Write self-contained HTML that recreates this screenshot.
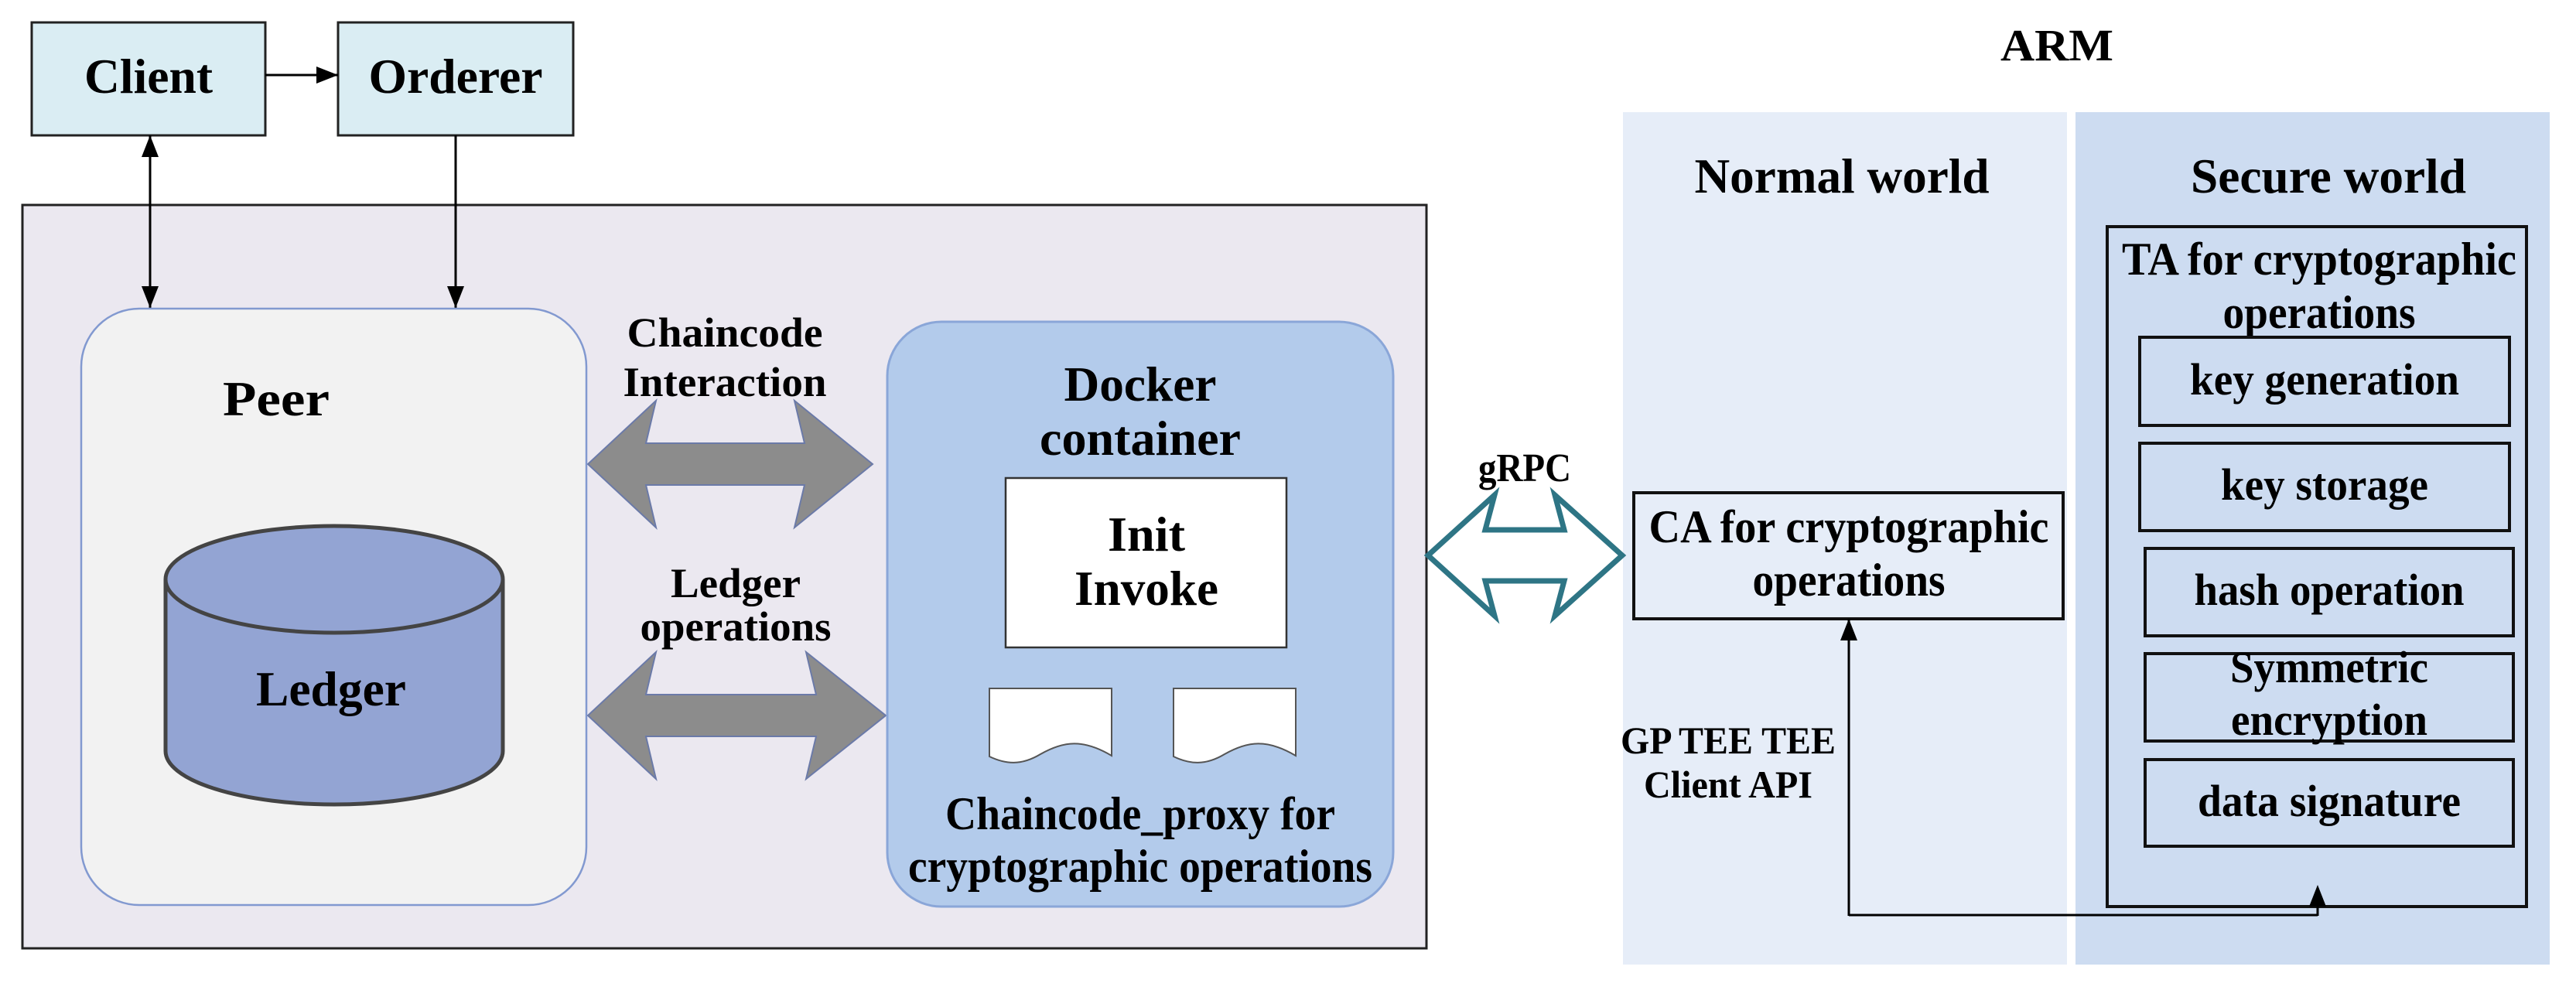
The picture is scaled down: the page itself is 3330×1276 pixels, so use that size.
<!DOCTYPE html>
<html><head><meta charset="utf-8"><style>
html,body{margin:0;padding:0;background:#fff}
svg{display:block}
text{font-family:"Liberation Serif",serif;font-weight:bold;fill:#000;text-anchor:middle}
</style></head><body>
<svg width="3330" height="1276" viewBox="0 0 3330 1276" xmlns="http://www.w3.org/2000/svg">
<defs>
<marker id="big" markerWidth="28" markerHeight="22" refX="28" refY="11" orient="auto-start-reverse" markerUnits="userSpaceOnUse"><path d="M0,0 L28,11 L0,22 z" fill="#000"/></marker>
</defs>

<rect x="41" y="29" width="302" height="146" fill="#daedf3" stroke="#222" stroke-width="3"/>
<rect x="437" y="29" width="304" height="146" fill="#daedf3" stroke="#222" stroke-width="3"/>
<text x="192" y="120" font-size="64" textLength="166" lengthAdjust="spacingAndGlyphs">Client</text>
<text x="589" y="120" font-size="64" textLength="225" lengthAdjust="spacingAndGlyphs">Orderer</text>
<line x1="343" y1="97" x2="437" y2="97" stroke="#000" stroke-width="3" marker-end="url(#big)"/>

<rect x="29" y="265" width="1815" height="961" fill="#ebe8f0" stroke="#222" stroke-width="3"/>

<line x1="194" y1="175" x2="194" y2="398" stroke="#000" stroke-width="3" marker-start="url(#big)" marker-end="url(#big)"/>
<line x1="589" y1="175" x2="589" y2="398" stroke="#000" stroke-width="3" marker-end="url(#big)"/>

<rect x="105" y="399" width="653" height="771" rx="75" fill="#f2f2f2" stroke="#8299d0" stroke-width="2.5"/>
<text x="357" y="537" font-size="64" textLength="138" lengthAdjust="spacingAndGlyphs">Peer</text>
<path d="M214,749 L214,971 A218,69 0 0 0 650,971 L650,749" fill="#93a4d3" stroke="#444" stroke-width="5"/>
<ellipse cx="432" cy="749" rx="218" ry="69" fill="#93a4d3" stroke="#444" stroke-width="5"/>
<text x="428" y="912" font-size="64" textLength="194" lengthAdjust="spacingAndGlyphs">Ledger</text>

<polygon points="760,600 848,518 835,573 1040,573 1027,518 1128,600 1027,682 1040,627 835,627 848,682" fill="#8c8c8c" stroke="#6b7aa8" stroke-width="2"/>
<polygon points="760,925 848,843 835,898 1055,898 1042,843 1145,925 1042,1007 1055,952 835,952 848,1007" fill="#8c8c8c" stroke="#6b7aa8" stroke-width="2"/>
<text x="937" y="448" font-size="54" textLength="253" lengthAdjust="spacingAndGlyphs">Chaincode</text>
<text x="937" y="512" font-size="54" textLength="263" lengthAdjust="spacingAndGlyphs">Interaction</text>
<text x="951" y="772" font-size="54" textLength="168" lengthAdjust="spacingAndGlyphs">Ledger</text>
<text x="951" y="828" font-size="54" textLength="247" lengthAdjust="spacingAndGlyphs">operations</text>

<rect x="1147" y="416" width="654" height="756" rx="70" fill="#b3cbeb" stroke="#8aa6d8" stroke-width="3"/>
<text x="1474" y="518" font-size="64" textLength="197" lengthAdjust="spacingAndGlyphs">Docker</text>
<text x="1474" y="588" font-size="64" textLength="260" lengthAdjust="spacingAndGlyphs">container</text>
<rect x="1300" y="618" width="363" height="219" fill="#fff" stroke="#333" stroke-width="2.5"/>
<text x="1482" y="712" font-size="64" textLength="100" lengthAdjust="spacingAndGlyphs">Init</text>
<text x="1482" y="782" font-size="64" textLength="186" lengthAdjust="spacingAndGlyphs">Invoke</text>
<path d="M1279,890 L1437,890 L1437,977 C1400,955 1375,958 1345,975 C1320,990 1300,988 1279,978 Z" fill="#fff" stroke="#555" stroke-width="2"/>
<path d="M1517,890 L1675,890 L1675,977 C1638,955 1613,958 1583,975 C1558,990 1538,988 1517,978 Z" fill="#fff" stroke="#555" stroke-width="2"/>
<text x="1474" y="1072" font-size="60" textLength="504" lengthAdjust="spacingAndGlyphs">Chaincode_proxy for</text>
<text x="1474" y="1140" font-size="60" textLength="600" lengthAdjust="spacingAndGlyphs">cryptographic operations</text>

<text x="2659" y="78" font-size="58" textLength="146" lengthAdjust="spacingAndGlyphs">ARM</text>
<rect x="2098" y="145" width="574" height="1102" fill="#e6edf8"/>
<rect x="2683" y="145" width="613" height="1102" fill="#cddcf1"/>
<text x="2381" y="249" font-size="64" textLength="381" lengthAdjust="spacingAndGlyphs">Normal world</text>
<text x="3010" y="249" font-size="64" textLength="356" lengthAdjust="spacingAndGlyphs">Secure world</text>

<text x="1971" y="622" font-size="52" textLength="120" lengthAdjust="spacingAndGlyphs">gRPC</text>
<polygon points="1846,718 1932,640 1920,685 2022,685 2010,640 2097,718 2010,796 2022,751 1920,751 1932,796" fill="#fff" stroke="#2e7585" stroke-width="7"/>

<rect x="2112" y="637" width="555" height="163" fill="none" stroke="#111" stroke-width="4"/>
<text x="2390" y="701" font-size="60" textLength="517" lengthAdjust="spacingAndGlyphs">CA for cryptographic</text>
<text x="2390" y="770" font-size="60" textLength="249" lengthAdjust="spacingAndGlyphs">operations</text>

<rect x="2724" y="293" width="542" height="879" fill="none" stroke="#111" stroke-width="4"/>
<text x="2998" y="355" font-size="60" textLength="510" lengthAdjust="spacingAndGlyphs">TA for cryptographic</text>
<text x="2998" y="424" font-size="60" textLength="249" lengthAdjust="spacingAndGlyphs">operations</text>
<rect x="2766" y="436" width="478" height="114" fill="none" stroke="#111" stroke-width="4"/>
<rect x="2766" y="573" width="478" height="113" fill="none" stroke="#111" stroke-width="4"/>
<rect x="2773" y="709" width="476" height="113" fill="none" stroke="#111" stroke-width="4"/>
<rect x="2773" y="845" width="476" height="113" fill="none" stroke="#111" stroke-width="4"/>
<rect x="2773" y="982" width="476" height="112" fill="none" stroke="#111" stroke-width="4"/>
<text x="3005" y="510" font-size="58" textLength="348" lengthAdjust="spacingAndGlyphs">key generation</text>
<text x="3005" y="646" font-size="58" textLength="268" lengthAdjust="spacingAndGlyphs">key storage</text>
<text x="3011" y="782" font-size="58" textLength="349" lengthAdjust="spacingAndGlyphs">hash operation</text>
<text x="3011" y="882" font-size="58" textLength="256" lengthAdjust="spacingAndGlyphs">Symmetric</text>
<text x="3011" y="950" font-size="58" textLength="254" lengthAdjust="spacingAndGlyphs">encryption</text>
<text x="3011" y="1055" font-size="58" textLength="340" lengthAdjust="spacingAndGlyphs">data signature</text>

<text x="2234" y="974" font-size="50" textLength="278" lengthAdjust="spacingAndGlyphs">GP TEE TEE</text>
<text x="2234" y="1031" font-size="50" textLength="218" lengthAdjust="spacingAndGlyphs">Client API</text>
<polyline points="2390,1183 2996,1183" fill="none" stroke="#000" stroke-width="3"/>
<line x1="2390" y1="1184" x2="2390" y2="800" stroke="#000" stroke-width="3" marker-end="url(#big)"/>
<line x1="2996" y1="1184" x2="2996" y2="1172" stroke="#000" stroke-width="3"/>
<path d="M2985,1172 L2996,1144 L3007,1172 Z" fill="#000"/>
</svg>
</body></html>
